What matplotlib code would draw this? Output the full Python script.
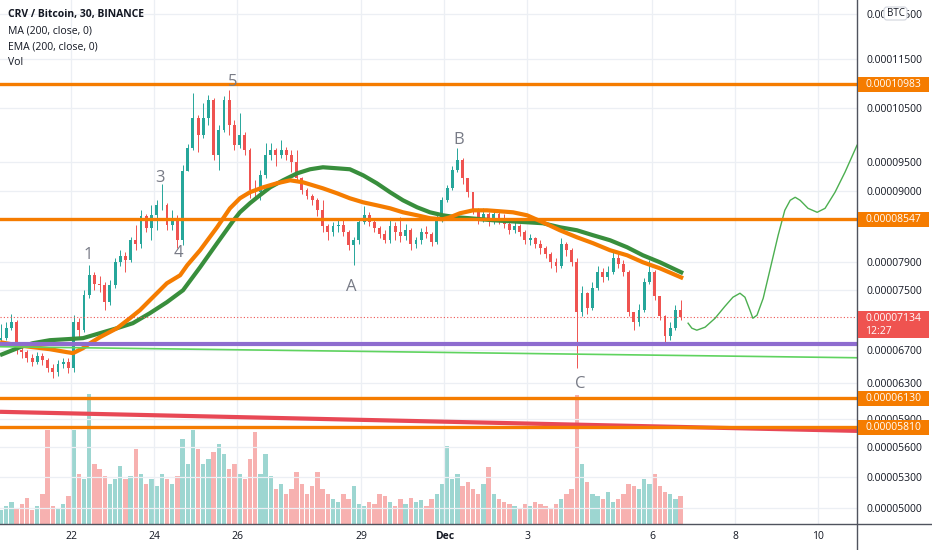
import numpy as np
import pandas as pd
import matplotlib
matplotlib.use('Agg')
import matplotlib.pyplot as plt
import matplotlib.dates as mdates
import matplotlib.transforms as mtransforms
from matplotlib.patches import Rectangle, FancyBboxPatch
from matplotlib.lines import Line2D
from matplotlib.ticker import FixedLocator, FuncFormatter, NullLocator, NullFormatter

plt.rcParams['font.family'] = ['Open Sans', 'DejaVu Sans']

# ---------------- data (prices in satoshi = 1e-8 BTC) ----------------
candle_start = '2021-11-20 06:00'   # 3-hour candles
first_open = 6827
closes = [6853, 6981, 7059, 6702, 6677, 6603, 6555, 6628, 6579, 6482,
          6434, 6530, 6555, 6482, 7059, 6955, 7421, 7702, 7574, 7560,
          7326, 7560, 7890, 7978, 7919, 8219, 8158, 8593, 8404, 8609,
          8770, 8770, 8451, 8562, 8219, 9342, 9749, 10307, 9987, 10307,
          10656, 9623, 10080, 10656, 10174, 9804, 9987, 9713, 9018, 8985,
          9272, 9623, 9713, 9623, 9713, 9623, 9499, 9221, 9018, 8918,
          8852, 8689, 8435, 8342, 8435, 8451, 8342, 8143, 8219, 8498,
          8609, 8498, 8404, 8311, 8219, 8435, 8342, 8280, 8373, 8158,
          8219, 8342, 8311, 8189, 8562, 8852, 9051, 9359, 9534, 9221,
          8985, 8689, 8562, 8625, 8530, 8625, 8562, 8467, 8373, 8435,
          8342, 8219, 8250, 8158, 8098, 8008, 7890, 7831, 8158, 8068,
          7890, 7191, 7449, 7245, 7519, 7745, 7674, 7745, 7949, 7861,
          7745, 7191, 7059, 7218, 7603, 7745, 7408, 7138, 6878, 6981,
          7218, 7134]
highs = [7033, 7059, 7164, 7085, 6752, 6702, 6652, 6677, 6665, 6603,
         6530, 6579, 6603, 6603, 7151, 7111, 7491, 7846, 7745, 7688,
         7603, 7631, 7949, 8068, 8038, 8265, 8451, 8689, 8625, 8770,
         8852, 9119, 8800, 8689, 8609, 9446, 9822, 10796, 10364, 10597,
         10756, 10700, 10174, 10736, 10856, 10269, 10403, 10043, 9749, 9187,
         9359, 9840, 9840, 9749, 9895, 9767, 9713, 9713, 9238, 9051,
         8952, 8885, 8852, 8467, 8498, 8530, 8530, 8373, 8265, 8562,
         8753, 8657, 8530, 8435, 8373, 8530, 8498, 8577, 8467, 8404,
         8265, 8404, 8435, 8342, 8609, 8902, 9102, 9429, 9749, 9570,
         9221, 8985, 8721, 8721, 8657, 8689, 8689, 8625, 8530, 8498,
         8467, 8373, 8311, 8265, 8219, 8128, 8038, 7949, 8250, 8189,
         8098, 7949, 7546, 7463, 7603, 7831, 7802, 7831, 8038, 8008,
         7919, 7773, 7191, 7299, 7659, 7919, 7773, 7408, 7151, 7059,
         7285, 7353]
lows = [6752, 6827, 6955, 6652, 6603, 6555, 6506, 6530, 6518, 6434,
        6363, 6386, 6482, 6422, 6434, 6853, 6929, 7380, 7491, 7463,
        7218, 7285, 7519, 7831, 7745, 7890, 8068, 8098, 8342, 8219,
        8373, 8689, 8373, 8373, 8098, 8143, 9342, 9713, 9677, 9932,
        10174, 9534, 9359, 10043, 9987, 9713, 9749, 9623, 8885, 8852,
        8852, 9221, 9534, 9429, 9570, 9534, 9325, 9153, 8952, 8869,
        8770, 8593, 8342, 8219, 8280, 8342, 8280, 8068, 7846, 8158,
        8467, 8435, 8342, 8250, 8174, 8174, 8219, 8189, 8219, 8068,
        8098, 8158, 8250, 8128, 8158, 8498, 8819, 9018, 9325, 9119,
        8902, 8625, 8467, 8498, 8435, 8467, 8467, 8404, 8311, 8327,
        8280, 8158, 8143, 8098, 8008, 7949, 7802, 7745, 7802, 7978,
        7831, 6482, 7138, 7164, 7218, 7491, 7603, 7631, 7716, 7802,
        7688, 7138, 6955, 7007, 7191, 7574, 7353, 7085, 6802, 6827,
        6955, 7085]
volumes = [14, 18, 22, 16, 20, 26, 14, 18, 30, 94,
           18, 16, 20, 28, 94, 50, 45, 130, 60, 55,
           48, 40, 45, 58, 45, 48, 75, 50, 40, 45,
           38, 50, 45, 40, 48, 85, 60, 94, 75, 60,
           65, 72, 80, 70, 55, 60, 50, 45, 65, 92,
           50, 70, 48, 35, 40, 30, 35, 52, 40, 30,
           38, 52, 35, 30, 25, 22, 30, 25, 38, 20,
           18, 22, 20, 30, 28, 22, 18, 25, 20, 26,
           22, 24, 18, 25, 30, 40, 78, 45, 50, 38,
           42, 35, 30, 40, 57, 30, 25, 22, 20, 18,
           15, 20, 18, 22, 20, 18, 15, 20, 25, 30,
           35, 129, 60, 42, 30, 28, 25, 32, 22, 25,
           30, 40, 38, 35, 45, 40, 50, 38, 32, 30,
           25, 28]

# indicator lines: days after 2021-11-22 00:00, value in satoshi
ma_days = [-1.71, -1.23, -0.92, -0.51, -0.10, 0.29, 0.70, 1.11, 1.49, 1.90,
           2.31, 2.70, 3.11, 3.52, 3.90, 4.07, 4.31, 4.55, 4.80, 5.11,
           5.45, 5.76, 6.07, 6.41, 6.72, 7.04, 7.37, 7.69, 8.00, 8.34,
           8.65, 8.96, 9.30, 9.61, 10.17, 10.99, 11.37, 11.78, 12.19, 12.58,
           12.99, 13.40, 13.78, 14.19, 14.75]
ma_vals = [6640, 6739, 6789, 6827, 6840, 6853, 6917, 6981, 7046, 7178,
           7326, 7491, 7817, 8174, 8514, 8657, 8803, 8935, 9068, 9187,
           9307, 9377, 9412, 9394, 9377, 9272, 9136, 8985, 8852, 8738,
           8657, 8609, 8577, 8562, 8530, 8498, 8483, 8420, 8373, 8296,
           8219, 8113, 7993, 7890, 7731]
ema_days = [-1.71, -1.30, -0.92, -0.51, -0.10, 0.05, 0.29, 0.46, 0.70, 1.11,
            1.42, 1.66, 1.90, 2.31, 2.63, 2.80, 3.11, 3.52, 3.83, 4.07,
            4.31, 4.63, 4.96, 5.28, 5.59, 6.07, 6.41, 6.72, 7.04, 7.37,
            7.69, 8.00, 8.34, 8.65, 8.96, 9.13, 9.37, 9.69, 10.02, 10.34,
            10.65, 10.99, 11.37, 11.78, 12.19, 12.58, 12.99, 13.40, 13.78, 14.19,
            14.75]
ema_vals = [6802, 6764, 6739, 6714, 6677, 6665, 6727, 6789, 6866, 6981,
            7111, 7218, 7353, 7588, 7702, 7846, 8068, 8420, 8721, 8885,
            8985, 9068, 9136, 9187, 9153, 9051, 8968, 8885, 8819, 8770,
            8721, 8657, 8609, 8562, 8546, 8577, 8641, 8689, 8689, 8673,
            8657, 8609, 8498, 8373, 8265, 8174, 8068, 7993, 7890, 7802,
            7659]
proj_days = [14.87, 14.96, 15.08, 15.28, 15.52, 15.76, 15.95, 16.12, 16.24, 16.36,
             16.43, 16.53, 16.68, 16.84, 17.04, 17.20, 17.33, 17.45, 17.57, 17.76,
             17.98, 18.17, 18.41, 18.65, 18.94]
proj_vals = [7046, 6981, 6955, 6994, 7111, 7272, 7394, 7449, 7394, 7218,
             7111, 7151, 7380, 7773, 8296, 8689, 8852, 8902, 8852, 8721,
             8657, 8721, 8985, 9325, 9804]

level_prices = [10983, 8547, 6130, 5810]
level_labels = ['0.00010983', '0.00008547', '0.00006130', '0.00005810']
trend_days = [-1.711, 18.94]
purple_line = [6782, 6782]
green_line = [6745, 6608]
red_line = [5977, 5769]
last_price = 7134
last_label = '0.00007134'
countdown = '12:27'

wave_labels = ['1', '3', '4', '5', 'A', 'B', 'C']
wave_days = [0.41, 2.145, 2.578, 3.904, 6.747, 9.349, 12.265]
wave_vals = [7993, 9221, 8023, 11019, 7532, 9895, 6292]

ytick_vals = [12500, 11500, 10500, 9500, 9000, 7900, 7500, 6700, 6300, 5900, 5600, 5300, 5000]
xtick_dates = ['2021-11-22', '2021-11-24', '2021-11-26', '2021-11-29', '2021-12-01',
               '2021-12-03', '2021-12-06', '2021-12-08', '2021-12-10']
xtick_labels = ['22', '24', '26', '29', 'Dec', '3', '6', '8', '10']

SAT = 1e-8
UP, DOWN = '#26a69a', '#ef5350'

# ---------------- figure ----------------
W, H = 932, 550
fig = plt.figure(figsize=(W / 100, H / 100), dpi=100)
fig.patch.set_facecolor('white')
rect = [0, 26 / H, 857 / W, 524 / H]
vax = fig.add_axes(rect)
ax = fig.add_axes(rect)
vax.set_zorder(0)
ax.set_zorder(1)
ax.patch.set_alpha(0)

base = mdates.date2num(pd.Timestamp('2021-11-22'))
xl, xr = base + trend_days[0], base + trend_days[1]

t = pd.date_range(candle_start, periods=len(closes), freq='3h') + pd.Timedelta(hours=1.5)
xn = mdates.date2num(t)
c = np.array(closes, float)
o = np.array([first_open] + closes[:-1], float)
hi = np.maximum(np.array(highs, float), np.maximum(o, c))
lo = np.minimum(np.array(lows, float), np.minimum(o, c))
up = c >= o
cols = np.where(up, UP, DOWN)

# volume
vax.bar(xn, volumes, width=0.125 * 0.85, color=cols, alpha=0.45, linewidth=0)
vax.set_ylim(0, 524)
vax.set_xlim(xl, xr)
vax.axis('off')

# grid + axes
ax.set_yscale('log')
ax.set_xlim(xl, xr)
ax.set_ylim(4853 * SAT, 12840 * SAT)
ax.yaxis.set_major_locator(FixedLocator([v * SAT for v in ytick_vals]))
ax.yaxis.set_major_formatter(FuncFormatter(lambda v, p: f'{v:.8f}'))
ax.yaxis.set_minor_locator(NullLocator())
ax.yaxis.set_minor_formatter(NullFormatter())
ax.yaxis.tick_right()
ax.set_xticks(mdates.date2num(pd.to_datetime(xtick_dates)))
ax.set_xticklabels(xtick_labels)
for lab in ax.get_xticklabels():
    if lab.get_text() == 'Dec':
        lab.set_fontweight('bold')
ax.tick_params(axis='y', length=0, pad=6.5, labelsize=7.5, labelcolor='#131722')
ax.tick_params(axis='x', length=0, pad=5, labelsize=7.5, labelcolor='#131722')
for s in ax.spines.values():
    s.set_visible(False)
ax.grid(True, color='#eceff4', lw=0.9)
ax.set_axisbelow(True)

# candles
ax.vlines(xn, lo * SAT, hi * SAT, colors=cols, lw=0.7, zorder=2)
bot = np.minimum(o, c) * SAT
top = np.maximum(o, c) * SAT
ax.bar(xn, np.maximum(top - bot, 1e-10), bottom=bot, width=0.125 * 0.55,
       color=cols, linewidth=0, zorder=2.1)

# indicators
ax.plot(base + np.array(ma_days), np.array(ma_vals) * SAT, color='#388e3c', lw=3, zorder=3,
        solid_capstyle='butt')
ax.plot(base + np.array(ema_days), np.array(ema_vals) * SAT, color='#f57c00', lw=3, zorder=3.1,
        solid_capstyle='butt')

# drawings
tx = base + np.array(trend_days)
ax.plot(tx, np.array(purple_line) * SAT, color='#8e6ccf', lw=3, zorder=4, solid_capstyle='butt')
ax.plot(tx, np.array(green_line) * SAT, color='#5fd35f', lw=1.2, zorder=4)
ax.plot(tx, np.array(red_line) * SAT, color='#e84855', lw=3, zorder=4, solid_capstyle='butt')
for p in level_prices:
    ax.axhline(p * SAT, color='#f57c00', lw=2.4, zorder=4.2)
ax.axhline(last_price * SAT, color='#ef5350', lw=0.8, ls=(0, (1, 2)), zorder=4)
ax.plot(base + np.array(proj_days), np.array(proj_vals) * SAT, color='#4caf50', lw=1.0, zorder=4)

for s, d, v in zip(wave_labels, wave_days, wave_vals):
    ax.text(base + d, v * SAT, s, ha='center', va='center', color='#787b86', fontsize=12, zorder=5)

# legend text
legend_rows = ['CRV / Bitcoin, 30, BINANCE', 'MA (200, close, 0)', 'EMA (200, close, 0)', 'Vol']
for k, (txt, yy) in enumerate(zip(legend_rows, [15, 31, 47, 62])):
    fig.text(8 / W, 1 - yy / H, txt, fontsize=7.5, color='#131722', va='center', ha='left',
             fontweight='bold' if k == 0 else 'normal')

# frame lines
ident = mtransforms.IdentityTransform()
fig.add_artist(Line2D([0, W], [26, 26], transform=ident, color='#50535e', lw=1, zorder=8))
fig.add_artist(Line2D([857, 857], [0, H], transform=ident, color='#50535e', lw=1, zorder=8))

# price tags
def ydisp(p):
    return ax.transData.transform((xl, p * SAT))[1]

for p, lab in zip(level_prices, level_labels):
    yd = ydisp(p)
    fig.add_artist(Rectangle((857.5, yd - 7.5), 71, 15, transform=ident, fc='#f57c00', ec='none', zorder=10))
    fig.text(865, yd, lab, transform=ident, color='white', fontsize=7.5, va='center', ha='left', zorder=11)

yd = ydisp(last_price)
fig.add_artist(Rectangle((857.5, yd - 21), 71, 27, transform=ident, fc='#ef5350', ec='none', zorder=10))
fig.text(865, yd - 1.5, last_label, transform=ident, color='white', fontsize=7.5, va='center', ha='left', zorder=11)
fig.text(865, yd - 14.5, countdown, transform=ident, color='white', fontsize=7.5, va='center', ha='left', zorder=11)

# BTC badge
fig.add_artist(FancyBboxPatch((884, H - 20), 23, 13, boxstyle='round,pad=0,rounding_size=3',
                              transform=ident, fc='white', ec='#d1d4dc', lw=0.8, zorder=10))
fig.text(895.5, H - 13.5, 'BTC', transform=ident, color='#131722', fontsize=7, va='center', ha='center', zorder=11)

fig.savefig('out.png', dpi=100, facecolor='white')
